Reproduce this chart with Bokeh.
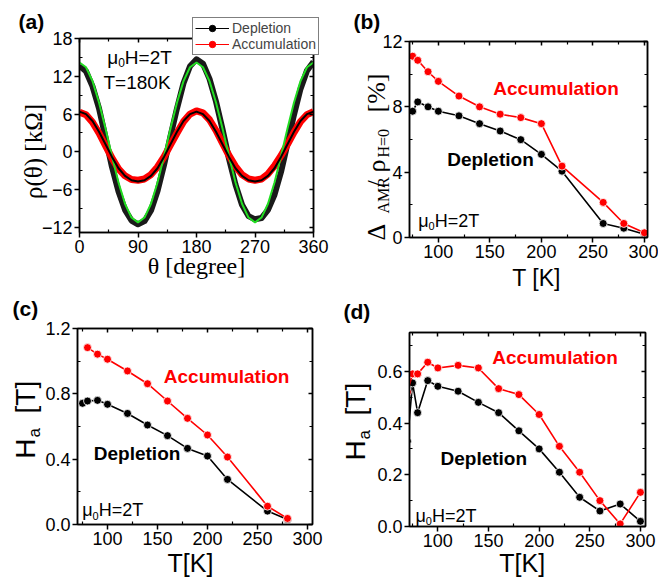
import math
from bokeh.plotting import figure
from bokeh.models import (Range1d, FixedTicker, LinearAxis, Label, Legend,
                          LegendItem, PrintfTickFormatter, GridBox)
from bokeh.layouts import column, row
from bokeh.embed import file_html
from bokeh.resources import INLINE

# ---------------- data ----------------
theta = [0, 10, 20, 30, 40, 50, 60, 70, 80, 90, 100, 110, 120, 130, 140, 150, 160, 170, 180,
         190, 200, 210, 220, 230, 240, 250, 260, 270, 280, 290, 300, 310, 320, 330, 340, 350, 360]
dep_rho = [13.7, 12.8, 10.4, 6.9, 2.3, -2.4, -6.3, -9.2, -10.9, -11.5, -11.0, -9.3, -6.2, -2.1,
           2.5, 6.9, 10.9, 13.6, 14.7, 14.0, 11.6, 8.0, 3.6, -1.1, -5.2, -8.4, -10.2, -10.7,
           -10.5, -9.2, -6.8, -3.2, 1.3, 5.9, 10.0, 12.9, 14.3]
dep_fit = [14.2, 13.43, 11.23, 7.85, 3.7, -0.7, -4.85, -8.23, -10.43, -11.2, -10.43, -8.23,
           -4.85, -0.7, 3.7, 7.85, 11.23, 13.43, 14.2, 13.43, 11.23, 7.85, 3.7, -0.7, -4.85,
           -8.23, -10.43, -11.2, -10.43, -8.23, -4.85, -0.7, 3.7, 7.85, 11.23, 13.43, 14.2]
acc_rho = [6.3, 5.9, 4.7, 3.0, 1.0, -1.0, -2.7, -3.8, -4.4, -4.5, -4.3, -3.6, -2.4, -0.8, 1.1,
           3.0, 4.8, 6.0, 6.5, 6.2, 5.1, 3.4, 1.4, -0.6, -2.3, -3.6, -4.3, -4.5, -4.3, -3.5,
           -2.2, -0.6, 1.2, 3.1, 4.8, 5.9, 6.4]
acc_fit = [6.4, 6.0, 4.9, 3.2, 1.2, -0.8, -2.6, -3.8, -4.5, -4.7, -4.5, -3.8, -2.6, -0.8, 1.2,
           3.2, 4.9, 6.0, 6.4, 6.0, 4.9, 3.2, 1.2, -0.8, -2.6, -3.8, -4.5, -4.7, -4.5, -3.8,
           -2.6, -0.8, 1.2, 3.2, 4.9, 6.0, 6.4]

T_b = [75, 80, 90, 100, 120, 140, 160, 180, 200, 220, 260, 280, 300]
amr_dep = [7.73, 8.3, 8.0, 7.73, 7.45, 6.97, 6.52, 5.99, 5.09, 4.06, 0.86, 0.57, 0.2]
amr_acc = [11.1, 10.85, 10.15, 9.56, 8.66, 8.0, 7.55, 7.34, 6.97, 4.37, 2.15, 0.86, 0.29]

T_c_dep = [75, 80, 90, 100, 120, 140, 160, 180, 200, 220, 260, 280]
ha_c_dep = [0.742, 0.756, 0.76, 0.736, 0.68, 0.609, 0.544, 0.466, 0.419, 0.276, 0.082, 0.031]
T_c_acc = [80, 90, 100, 120, 140, 160, 180, 200, 220, 260, 280]
ha_c_acc = [1.083, 1.043, 1.012, 0.94, 0.862, 0.756, 0.65, 0.548, 0.413, 0.112, 0.037]

T_d = [70, 75, 80, 90, 100, 120, 140, 160, 180, 200, 220, 240, 260, 280, 300]
ha_d_dep = [0.33, 0.555, 0.44, 0.564, 0.542, 0.523, 0.48, 0.44, 0.37, 0.30, 0.21, 0.113,
            0.06, 0.087, 0.02]
ha_d_acc = [0.52, 0.59, 0.59, 0.635, 0.613, 0.623, 0.613, 0.533, 0.51, 0.433, 0.31, 0.21,
            0.10, 0.01, 0.132]

RED = "#ff0000"
GREEN = "#22dd22"
SANS = "Liberation Sans"
SERIF = "Liberation Serif"
PAGE_W, PAGE_H = 658, 582
BASE_K = 0.345   # distance from the text box centre down to the baseline, in em

W_SANS = {'μ': .576, 'H': .722, '=': .584, 'T': .611, 'a': .556, ' ': .278, '[': .278,
          ']': .278, 'K': .667}


def tw(s, size):
    return sum(W_SANS.get(c, 0.556) for c in s) * size


def make_fig(w, h, l, r, t, b, xr, yr, xt, xm, yt, ym, yfmt=None):
    p = figure(width=w, height=h, min_border_left=l, min_border_right=r,
               min_border_top=t, min_border_bottom=b,
               x_range=Range1d(*xr), y_range=Range1d(*yr),
               output_backend="svg", toolbar_location=None)
    p.xgrid.visible = False
    p.ygrid.visible = False
    p.outline_line_color = "black"
    p.outline_line_width = 1.5
    for ax, tk, mn in ((p.xaxis[0], xt, xm), (p.yaxis[0], yt, ym)):
        ax.ticker = FixedTicker(ticks=tk, minor_ticks=mn)
        ax.axis_line_width = 1.5
        ax.major_tick_line_width = 1.5
        ax.minor_tick_line_width = 1.2
        ax.major_tick_out = 5
        ax.major_tick_in = 0
        ax.minor_tick_out = 0
        ax.minor_tick_in = 3
        ax.major_label_text_font = SANS
        ax.major_label_text_font_size = "18px"
        ax.major_label_text_color = "black"
        ax.major_label_standoff = 2
    if yfmt:
        p.yaxis[0].formatter = PrintfTickFormatter(format=yfmt)
    for place, tk, mn in (("above", xt, xm), ("right", yt, ym)):
        ax = LinearAxis(ticker=FixedTicker(ticks=tk, minor_ticks=mn),
                        major_label_overrides={v: "" for v in tk},
                        major_label_text_color=None, major_label_text_font_size="8px",
                        major_label_standoff=0,
                        major_tick_in=4, major_tick_out=0, minor_tick_in=3, minor_tick_out=0,
                        axis_line_width=1.5, major_tick_line_width=1.5,
                        minor_tick_line_width=1.2)
        p.add_layout(ax, place)
    return p


def series(p, x, y, color):
    p.line(x, y, color=color, line_width=1.6)
    p.scatter(x, y, marker="circle", size=8, fill_color=color, line_color="white",
              line_width=0.8)


# ---------------- (a) ----------------
pa = make_fig(329, 290, 79, 16, 38, 58, (0, 360), (-12.8, 18),
              [0, 90, 180, 270, 360], [45, 135, 225, 315],
              [-12, -6, 0, 6, 12, 18], [-9, -3, 3, 9, 15])
pa.line(theta, dep_rho, color="#1a1a1a", line_width=6, line_join="round")
pa.line(theta, acc_rho, color=RED, line_width=7, line_join="round")
pa.line(theta, dep_fit, color=GREEN, line_width=2)
pa.line(theta, acc_fit, color="black", line_width=2)

# ---------------- (b) ----------------
pb = make_fig(329, 290, 80, 11, 41, 53, (72, 303), (0, 12),
              [100, 150, 200, 250, 300], [75, 125, 175, 225, 275],
              [0, 4, 8, 12], [2, 6, 10])
series(pb, T_b, amr_dep, "black")
series(pb, T_b, amr_acc, RED)

# ---------------- (c) ----------------
pc = make_fig(329, 292, 77, 17, 38, 58, (70, 305), (0, 1.2),
              [100, 150, 200, 250, 300], [75, 125, 175, 225, 275],
              [0.0, 0.4, 0.8, 1.2], [0.2, 0.6, 1.0], yfmt="%.1f")
series(pc, T_c_dep, ha_c_dep, "black")
series(pc, T_c_acc, ha_c_acc, RED)

# ---------------- (d) ----------------
pd_ = make_fig(329, 292, 80, 13, 42, 56, (72, 305), (0, 0.75),
               [100, 150, 200, 250, 300], [75, 125, 175, 225, 275],
               [0.0, 0.2, 0.4, 0.6], [0.1, 0.3, 0.5, 0.7], yfmt="%.1f")
series(pd_, T_d, ha_d_dep, "black")
series(pd_, T_d, ha_d_acc, RED)

# ---------------- overlay for all texts and the legend ----------------
ov = figure(width=PAGE_W, height=PAGE_H, min_border=0, x_range=Range1d(0, PAGE_W),
            y_range=Range1d(0, PAGE_H), x_axis_location=None, y_axis_location=None,
            output_backend="svg", toolbar_location=None)
ov.xgrid.visible = False
ov.ygrid.visible = False
ov.outline_line_color = None
ov.background_fill_alpha = 0
ov.border_fill_alpha = 0


def lab(x, y, text, size, color="black", bold=False, font=SANS, vertical=False,
        align="left"):
    """x, y: page position of the text's baseline start (or centre for align='center')."""
    if vertical:
        x = x - BASE_K * size
    else:
        y = y - BASE_K * size
    ov.add_layout(Label(x=x, y=PAGE_H - y, x_units="screen", y_units="screen",
                        text=text, text_font=font, text_font_size=f"{size}px",
                        text_font_style="bold" if bold else "normal", text_color=color,
                        angle=math.pi / 2 if vertical else 0.0, text_align=align,
                        text_baseline="alphabetic"))


def mu(x, y, size=18):
    sub = round(size * 0.62)
    lab(x, y, "μ", size)
    lab(x + tw("μ", size), y + 3, "0", sub)
    lab(x + tw("μ", size) + tw("0", sub), y, "H=2T", size)


def ha_label(xb, starts):
    lab(xb, starts[0], "H", 28, vertical=True)
    lab(xb + 5, starts[1], "a", 17, vertical=True)
    lab(xb, starts[2], "[T]", 28, vertical=True)


# (a)
lab(18, 28, "(a)", 21, bold=True)
lab(196, 274, "θ [degree]", 24, font=SERIF, align="center")
lab(42, 151, "ρ(θ) [kΩ]", 25, font=SERIF, vertical=True, align="center")
mu(106.7, 63.3, 19)
lab(103, 88.3, "T=180K", 19)
l1 = ov.line([-500, -400], [-500, -500], color="black", line_width=1.2)
s1 = ov.scatter([-450], [-500], marker="circle", size=7, color="black")
l2 = ov.line([-500, -400], [-500, -500], color=RED, line_width=1.2)
s2 = ov.scatter([-450], [-500], marker="circle", size=7, color=RED)
leg = Legend(items=[LegendItem(label="Depletion", renderers=[l1, s1]),
                    LegendItem(label="Accumulation", renderers=[l2, s2])],
             location=(192, PAGE_H - 55), margin=0, padding=2, spacing=0, label_height=16,
             glyph_height=16, glyph_width=34, label_standoff=3,
             label_text_font=SANS, label_text_font_size="14px",
             border_line_color="black", border_line_width=1,
             background_fill_color="white", background_fill_alpha=1.0)
ov.add_layout(leg)

# (b)
lab(353, 28, "(b)", 21, bold=True)
lab(536, 285, "T [K]", 23, align="center")
lab(385, 240, "Δ", 26, font=SERIF, vertical=True)
lab(389, 213, "AMR", 16, font=SERIF, vertical=True)
lab(385, 187, "/", 26, font=SERIF, vertical=True)
lab(385, 172, "ρ", 26, font=SERIF, vertical=True)
lab(389, 157, "H=0", 16, font=SERIF, vertical=True)
lab(385, 112, "[%]", 26, font=SERIF, vertical=True)
mu(417.7, 226.7)
lab(492.7, 95, "Accumulation", 19, RED, bold=True)
lab(446.7, 166, "Depletion", 19, bold=True)

# (c)
lab(12, 315, "(c)", 21, bold=True)
lab(190, 571, "T[K]", 25, align="center")
ha_label(35, (458.3, 437, 413))
mu(81.7, 516)
lab(163.3, 383, "Accumulation", 19, RED, bold=True)
lab(93.3, 460, "Depletion", 19, bold=True)

# (d)
lab(343, 318, "(d)", 21, bold=True)
lab(521.7, 571, "T[K]", 25, align="center")
ha_label(365, (460, 439, 415))
mu(415, 521.5)
lab(491.7, 363.5, "Accumulation", 19, RED, bold=True)
lab(440, 465, "Depletion", 19, bold=True)

panels = column(row(column(pa), column(pb)), row(column(pc), column(pd_)))
layout = GridBox(children=[(panels, 0, 0), (ov, 0, 0)], spacing=0)
open("out.html", "w").write(file_html(layout, INLINE))
